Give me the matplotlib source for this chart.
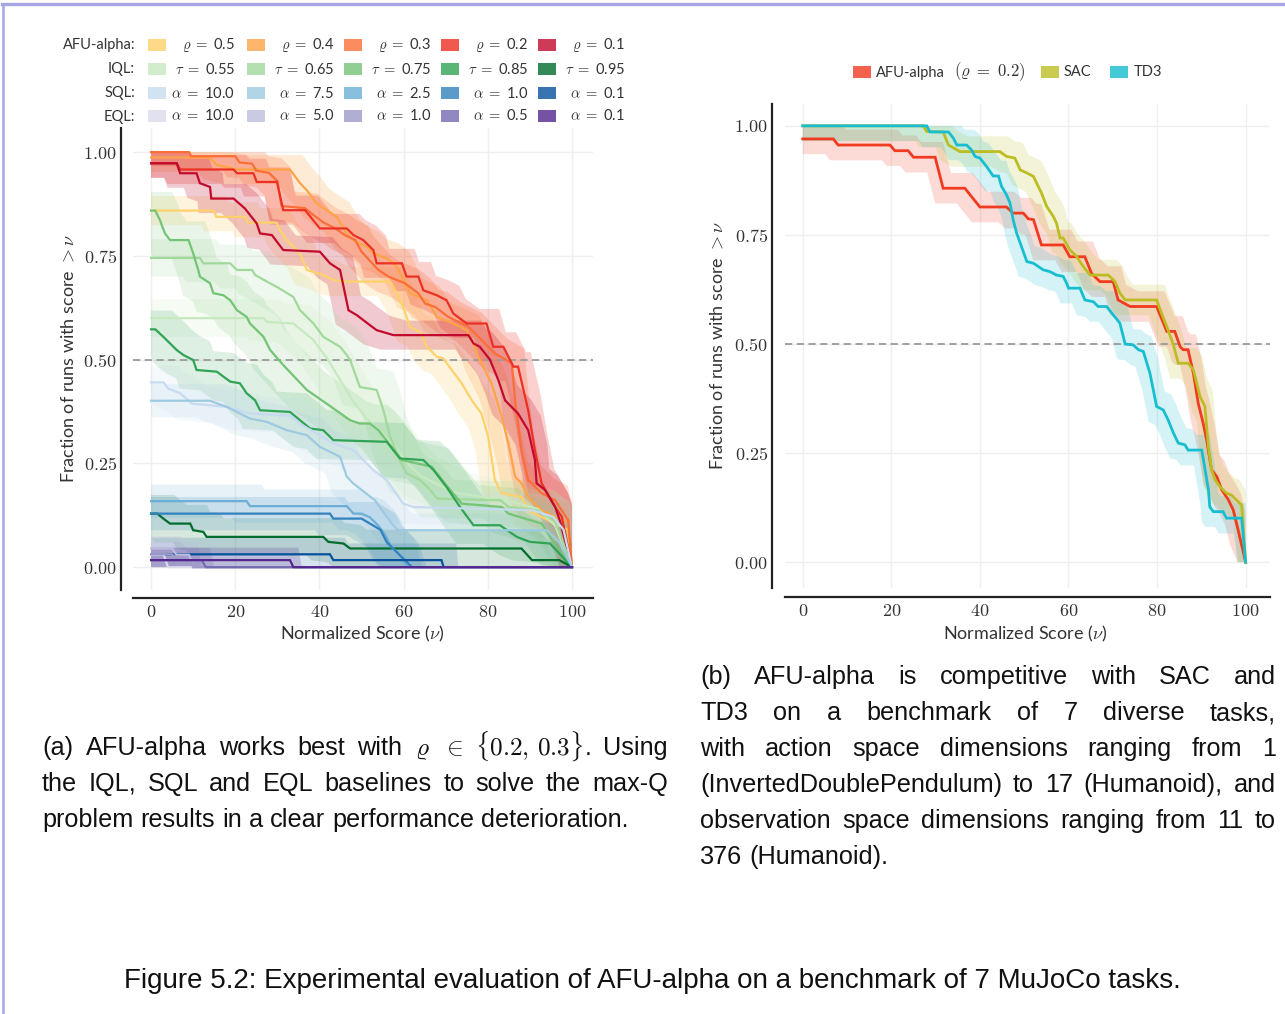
import numpy as np
import matplotlib
matplotlib.use("Agg")
import matplotlib.pyplot as plt
from matplotlib.patches import Rectangle
from matplotlib.lines import Line2D

plt.rcParams["mathtext.fontset"] = "cm"
plt.rcParams["font.family"] = ["Lato", "DejaVu Sans"]

# ---------------- (a) left panel, curve vertices (score, fraction) ----------------
# AFU-alpha
afu05_x = [0, 14.8, 15.5, 22.3, 23, 29.8, 30.6, 32.2, 35.4, 37, 40.9, 43.3, 45.7, 56.8, 58.4, 59.9, 61.5, 63.9, 65.5, 67.9,
           69.4, 73.8, 76.2, 78.5, 80.1, 81.7, 83.3, 88.1, 89.6, 92.8, 96, 99, 100]
afu05_y = [0.859, 0.859, 0.844, 0.844, 0.830, 0.830, 0.812, 0.788, 0.756, 0.716, 0.704, 0.692, 0.688, 0.688, 0.660, 0.627,
           0.579, 0.567, 0.531, 0.507, 0.503, 0.443, 0.402, 0.370, 0.314, 0.210, 0.178, 0.169, 0.137, 0.121, 0.105, 0.09, 0.0]
afu04_x = [0, 14, 15.6, 20.4, 33, 35.4, 37, 39.4, 41.7, 44.1, 46.5, 48, 51.2, 52.8, 56, 58.4, 59.9, 61.5, 65.5, 67.9,
           71.8, 75, 76.6, 77.7, 80.9, 83.3, 84.9, 86.5, 88, 89.6, 92.8, 96, 99, 100]
afu04_y = [0.987, 0.987, 0.969, 0.958, 0.958, 0.925, 0.908, 0.876, 0.860, 0.844, 0.804, 0.788, 0.772, 0.756, 0.744, 0.724,
           0.692, 0.660, 0.643, 0.603, 0.587, 0.571, 0.539, 0.507, 0.443, 0.362, 0.298, 0.218, 0.202, 0.169, 0.137, 0.121,
           0.11, 0.0]
afu03_x = [0, 9, 9.5, 20, 21, 24, 25, 28, 30, 31, 36.5, 39, 41, 44, 46, 48.5, 50, 54, 56.4, 60.3, 63.5, 65.1, 67.5, 70.6,
           75.4, 77, 80.1, 81.7, 85.7, 86.5, 88, 89.6, 92.8, 96, 99.1, 100]
afu03_y = [1.0, 1.0, 0.99, 0.99, 0.975, 0.972, 0.955, 0.95, 0.93, 0.87, 0.865, 0.845, 0.83, 0.815, 0.80, 0.788, 0.76, 0.716,
           0.70, 0.684, 0.66, 0.635, 0.627, 0.603, 0.579, 0.563, 0.531, 0.515, 0.491, 0.40, 0.282, 0.21, 0.178, 0.161, 0.113,
           0.0]
afu02_x = [0, 6.1, 6.9, 19.6, 20.4, 24.3, 25.1, 29.9, 31.4, 36.6, 40.1, 46.5, 48.1, 50.4, 52.8, 53.6, 59.6, 60.7, 63.5,
           64.7, 67.9, 70.2, 71.8, 75, 79.7, 81.3, 83.7, 86.1, 87.2, 89.6, 91.2, 92.8, 96, 97.6, 100]
afu02_y = [0.973, 0.973, 0.958, 0.958, 0.949, 0.949, 0.928, 0.928, 0.860, 0.860, 0.816, 0.816, 0.80, 0.788, 0.764, 0.732,
           0.732, 0.70, 0.70, 0.667, 0.655, 0.643, 0.611, 0.587, 0.587, 0.531, 0.531, 0.483, 0.483, 0.378, 0.282, 0.202,
           0.145, 0.121, 0.0]
afu01_x = [0, 6.1, 6.9, 10.8, 11.6, 14, 14.3, 19.6, 22.3, 25.1, 25.9, 28.7, 31.4, 40.1, 42.5, 44.9, 46.9, 48.9, 52, 53.6,
           57.6, 75.4, 76.6, 78.1, 80.5, 82.5, 84.1, 87.2, 89.6, 91.2, 91.6, 93.6, 96, 97.1, 100]
afu01_y = [0.973, 0.973, 0.949, 0.949, 0.925, 0.916, 0.888, 0.888, 0.864, 0.828, 0.804, 0.80, 0.764, 0.76, 0.732, 0.716,
           0.619, 0.607, 0.583, 0.571, 0.559, 0.559, 0.539, 0.531, 0.50, 0.451, 0.402, 0.370, 0.330, 0.258, 0.202, 0.186,
           0.145, 0.113, 0.0]

# IQL
iql055_x = [0, 26.7, 27.5, 33.8, 36.2, 38.6, 40.9, 42, 45, 48, 51, 54, 58, 61, 64, 68, 72, 78, 85, 92, 96, 100]
iql055_y = [0.60, 0.60, 0.591, 0.587, 0.567, 0.547, 0.515, 0.50, 0.45, 0.40, 0.36, 0.33, 0.29, 0.25, 0.22, 0.20, 0.18,
            0.17, 0.16, 0.14, 0.10, 0.0]
iql065_x = [0, 11.6, 12.4, 18.8, 20.4, 24, 24.7, 27.5, 29.9, 33.8, 35.4, 38.6, 40.9, 44.9, 46.5, 47.3, 49.6, 53.6, 55.2,
            56.8, 59.1, 60.7, 63.9, 66, 68, 83, 85, 92, 96, 100]
iql065_y = [0.745, 0.745, 0.732, 0.732, 0.716, 0.716, 0.704, 0.688, 0.675, 0.651, 0.619, 0.587, 0.555, 0.531, 0.511, 0.499,
            0.434, 0.427, 0.378, 0.314, 0.258, 0.226, 0.21, 0.19, 0.165, 0.161, 0.145, 0.137, 0.11, 0.0]
iql075_x = [0, 1, 2.1, 3.3, 4.5, 8.9, 10, 11.2, 11.6, 14, 14.8, 17.2, 18.8, 20.4, 22.7, 23.5, 25.1, 26.7, 28.3, 31.4, 37,
            41.7, 47.3, 49.6, 52, 54, 59.6, 66.7, 69.8, 73.8, 83.3, 84.9, 92.8, 97, 100]
iql075_y = [0.859, 0.859, 0.836, 0.804, 0.788, 0.788, 0.756, 0.716, 0.70, 0.684, 0.660, 0.655, 0.643, 0.619, 0.603, 0.587,
            0.571, 0.555, 0.523, 0.487, 0.427, 0.394, 0.354, 0.346, 0.346, 0.33, 0.258, 0.242, 0.202, 0.153, 0.145, 0.129,
            0.105, 0.04, 0.0]
iql085_x = [0, 1, 2.9, 4.5, 6.1, 7.7, 10, 10.8, 15.6, 17.2, 18.8, 21.1, 22.7, 24.7, 25.9, 33, 35.4, 37.8, 40.9, 43.3, 56,
            59.1, 64.7, 67.1, 70.2, 71.8, 73.4, 76.6, 82.9, 86.9, 90, 94.8, 100]
iql085_y = [0.573, 0.573, 0.555, 0.539, 0.523, 0.511, 0.499, 0.475, 0.471, 0.459, 0.447, 0.443, 0.419, 0.402, 0.378, 0.374,
            0.354, 0.334, 0.330, 0.306, 0.302, 0.262, 0.258, 0.234, 0.193, 0.169, 0.145, 0.101, 0.101, 0.073, 0.061, 0.057,
            0.0]
iql095_x = [0, 1.5, 2.9, 4.5, 9.3, 10, 12.4, 13.2, 40.9, 42.1, 45.7, 47.3, 88, 90.5, 97, 100]
iql095_y = [0.129, 0.129, 0.117, 0.105, 0.105, 0.089, 0.085, 0.073, 0.073, 0.061, 0.057, 0.045, 0.045, 0.017, 0.017, 0.0]

# SQL
sql100_x = [0, 3, 4.1, 6.9, 9.7, 14, 18, 23.5, 33, 35.4, 38, 43.3, 48.1, 52.8, 56, 59.9, 62.3, 90.8, 95.6, 98, 100]
sql100_y = [0.445, 0.445, 0.430, 0.419, 0.394, 0.39, 0.386, 0.37, 0.365, 0.345, 0.33, 0.298, 0.282, 0.234, 0.21, 0.153,
            0.145, 0.137, 0.121, 0.09, 0.0]
sql075_x = [0, 14, 18, 23.5, 27.5, 32.2, 37, 40.1, 44.9, 46.5, 48, 53.2, 57.2, 58.7, 94, 97, 100]
sql075_y = [0.401, 0.401, 0.386, 0.358, 0.350, 0.330, 0.318, 0.290, 0.266, 0.218, 0.202, 0.161, 0.105, 0.089, 0.089, 0.06,
            0.0]
sql025_x = [0, 22.7, 23.5, 46.5, 48.1, 50, 52, 54, 55.5, 57, 59, 61, 100]
sql025_y = [0.159, 0.159, 0.147, 0.147, 0.129, 0.129, 0.12, 0.10, 0.08, 0.05, 0.03, 0.0, 0.0]
sql010_x = [0, 42.5, 43.3, 50, 52, 54.5, 56, 58, 60, 62, 100]
sql010_y = [0.129, 0.129, 0.117, 0.117, 0.105, 0.09, 0.06, 0.04, 0.02, 0.0, 0.0]
sql001_x = [0, 42.5, 43.3, 69, 69.5, 100]
sql001_y = [0.031, 0.031, 0.017, 0.017, 0.0, 0.0]

# EQL
eql100_x = [0, 3, 4, 100]
eql100_y = [0.03, 0.03, 0.0, 0.0]
eql050_x = [0, 5, 6, 9, 10, 100]
eql050_y = [0.045, 0.045, 0.03, 0.03, 0.0, 0.0]
eql010_x = [0, 4.9, 6.5, 9.3, 10, 100]
eql010_y = [0.031, 0.031, 0.017, 0.017, 0.0, 0.0]
eql005_x = [0, 12, 13, 100]
eql005_y = [0.017, 0.017, 0.0, 0.0]
eql001_x = [0, 33, 33.8, 100]
eql001_y = [0.017, 0.017, 0.0, 0.0]

afu_labels = ["0.5", "0.4", "0.3", "0.2", "0.1"]
iql_labels = ["0.55", "0.65", "0.75", "0.85", "0.95"]
sql_labels = ["10.0", "7.5", "2.5", "1.0", "0.1"]
eql_labels = ["10.0", "5.0", "1.0", "0.5", "0.1"]

# ---------------- (b) right panel ----------------
afu_x = [0, 6.9, 8, 19.7, 20.8, 23.8, 25, 29.9, 31.7, 36.6, 40, 46, 47.5, 49.8, 50.9, 52.1, 53.9, 58.8, 60.3, 63.7, 65.2,
         67.1, 70.1, 71.2, 73.9, 79.9, 82.2, 84, 85.2, 85.9, 87, 88.2, 89.3, 90.4, 91.2, 92.3, 93.5, 94.6, 96.1, 97.2, 98.3,
         100]
afu_y = [0.970, 0.970, 0.956, 0.956, 0.943, 0.943, 0.928, 0.928, 0.857, 0.857, 0.814, 0.814, 0.80, 0.80, 0.787, 0.785,
         0.727, 0.727, 0.70, 0.70, 0.662, 0.643, 0.643, 0.601, 0.586, 0.586, 0.529, 0.529, 0.494, 0.487, 0.487, 0.433,
         0.364, 0.319, 0.280, 0.212, 0.196, 0.166, 0.143, 0.120, 0.074, 0.0]
sac_x = [0, 27.2, 28, 31.7, 32.9, 35.5, 44.5, 46, 47.9, 49.1, 50.6, 52.1, 52.8, 53.9, 55.1, 56.6, 57.3, 58.1, 58.8, 60.3,
         61.9, 63.3, 64.9, 69, 70.5, 71.6, 72.8, 79.9, 81, 82.2, 83.7, 84.8, 87, 88.2, 89.7, 90.8, 91.6, 92.3, 93.1, 94.2,
         95.7, 96.8, 99.1, 100]
sac_y = [1.0, 1.0, 0.987, 0.986, 0.956, 0.941, 0.941, 0.930, 0.926, 0.899, 0.892, 0.884, 0.869, 0.846, 0.815, 0.792, 0.777,
         0.743, 0.743, 0.716, 0.700, 0.678, 0.658, 0.658, 0.643, 0.617, 0.601, 0.601, 0.571, 0.540, 0.498, 0.456, 0.456,
         0.441, 0.380, 0.357, 0.265, 0.212, 0.189, 0.173, 0.158, 0.154, 0.131, 0.0]
td3_x = [0, 28, 28.7, 32.9, 34, 34.8, 37, 38.1, 38.9, 40, 41.5, 43, 44.2, 44.9, 46, 46.8, 47.5, 48.3, 49.4, 50.6, 52.1,
         54.3, 55.8, 57.3, 58.8, 59.6, 60, 62.6, 63.7, 65.6, 66.7, 68.6, 70.1, 71.6, 72.8, 74.6, 75.8, 76.9, 78.4, 79.9,
         81.4, 82.5, 83.7, 84.8, 86.3, 87, 90.1, 91.6, 91.9, 92.7, 94.9, 95.7, 99.1, 100]
td3_y = [1.0, 1.0, 0.986, 0.986, 0.972, 0.956, 0.956, 0.945, 0.930, 0.926, 0.907, 0.885, 0.885, 0.861, 0.842, 0.823, 0.785,
         0.754, 0.723, 0.689, 0.685, 0.670, 0.666, 0.658, 0.655, 0.639, 0.628, 0.628, 0.601, 0.597, 0.586, 0.586, 0.567,
         0.548, 0.50, 0.498, 0.487, 0.483, 0.433, 0.357, 0.349, 0.326, 0.296, 0.273, 0.269, 0.257, 0.257, 0.166, 0.127,
         0.116, 0.116, 0.101, 0.101, 0.0]
right_labels = ["AFU-alpha", "SAC", "TD3"]
right_label_math = r"$(\varrho\ =\ 0.2)$"

# colours
afu_colors = ["#fed16a", "#fea446", "#fc6e38", "#ec3024", "#c10a2e"]
iql_colors = ["#c7e9c0", "#a1d99b", "#74c476", "#31a354", "#006d2c"]
sql_colors = ["#c6dbef", "#9ecae1", "#6baed6", "#3182bd", "#08519c"]
eql_colors = ["#dadaeb", "#bcbddc", "#9e9ac8", "#756bb1", "#54278f"]
right_colors = ["#f03b20", "#bcbd22", "#17becf"]

W, H = 1285, 1014
fig = plt.figure(figsize=(W / 100, H / 100), dpi=100)
TXT = "#333333"


def fx(px):
    return px / W


def fy(py):
    return 1 - py / H


def draw_profile(ax, xs, ys, color, dx, dy, lw, band_alpha):
    xs = np.asarray(xs, float)
    ys = np.asarray(ys, float)
    up_x = np.clip(np.r_[0, xs + dx], 0, 100)
    up_y = np.clip(np.r_[ys[0] + dy, np.where(ys > 0, ys + dy, 0)], 0, 1)
    lo_x = np.clip(np.r_[xs - dx, 100], 0, 100)
    lo_y = np.clip(np.r_[ys - dy, 0], 0, 1)
    ax.fill(np.r_[up_x, lo_x[::-1]], np.r_[up_y, lo_y[::-1]], color=color, alpha=band_alpha, lw=0, zorder=1)
    ax.plot(xs, ys, color=color, lw=lw, zorder=3, solid_joinstyle="miter")


def style_axes(ax, xlim, ylim, left_off, bottom_off):
    ax.set_xlim(*xlim)
    ax.set_ylim(*ylim)
    for s in ["top", "right"]:
        ax.spines[s].set_visible(False)
    ax.spines["left"].set_position(("outward", left_off))
    ax.spines["bottom"].set_position(("outward", bottom_off))
    for s in ["left", "bottom"]:
        ax.spines[s].set_linewidth(1.6)
        ax.spines[s].set_color("#222222")
    ticks_x = [0, 20, 40, 60, 80, 100]
    ticks_y = [0, 0.25, 0.5, 0.75, 1.0]
    ax.set_xticks(ticks_x)
    ax.set_xticklabels([rf"${v}$" for v in ticks_x])
    ax.set_yticks(ticks_y)
    ax.set_yticklabels([rf"${v:.2f}$" for v in ticks_y])
    ax.tick_params(axis="both", length=0, labelsize=13, labelcolor=TXT)
    ax.tick_params(axis="y", pad=3)
    ax.tick_params(axis="x", pad=4)
    ax.grid(True, color="#efefef", lw=1.0)
    ax.set_axisbelow(True)
    ax.axhline(0.5, color="#9a9a9a", lw=1.3, dashes=(4, 2.5), zorder=2)
    ax.set_xlabel(r"Normalized Score ($\nu$)", fontsize=13, color=TXT, va="center")
    ax.set_ylabel(r"Fraction of runs with score $>\nu$", fontsize=13, color=TXT, va="center")


# ---------------- left axes ----------------
axL = fig.add_axes([fx(133), fy(590), 460 / W, 462 / H])
style_axes(axL, (-4.3, 105.0), (-0.055, 1.058), 8.6, 5.8)
axL.xaxis.set_label_coords((362 - 133) / 460, (590 - 634) / 462)
axL.yaxis.set_label_coords((68 - 133) / 460, 0.5)

afu_curves = [(afu05_x, afu05_y), (afu04_x, afu04_y), (afu03_x, afu03_y), (afu02_x, afu02_y), (afu01_x, afu01_y)]
iql_curves = [(iql055_x, iql055_y), (iql065_x, iql065_y), (iql075_x, iql075_y), (iql085_x, iql085_y),
              (iql095_x, iql095_y)]
sql_curves = [(sql100_x, sql100_y), (sql075_x, sql075_y), (sql025_x, sql025_y), (sql010_x, sql010_y),
              (sql001_x, sql001_y)]
eql_curves = [(eql100_x, eql100_y), (eql050_x, eql050_y), (eql010_x, eql010_y), (eql005_x, eql005_y),
              (eql001_x, eql001_y)]

families = [
    (afu_curves, afu_colors, 3.0, 0.035, 0.22),
    (iql_curves, iql_colors, 4.0, 0.045, 0.16),
    (sql_curves, sql_colors, 3.5, 0.04, 0.16),
    (eql_curves, eql_colors, 2.0, 0.03, 0.2),
]
for curves, colors, dx, dy, a in families:
    for (xs, ys), c in zip(curves, colors):
        draw_profile(axL, xs, ys, c, dx, dy, 1.6, a)

# left legend, drawn by hand
rows = [("AFU-alpha:", r"$\varrho\;=$", afu_labels, afu_colors),
        ("IQL:", r"$\tau\;=$", iql_labels, iql_colors),
        ("SQL:", r"$\alpha\;=$", sql_labels, sql_colors),
        ("EQL:", r"$\alpha\;=$", eql_labels, eql_colors)]
row_y = [45, 69, 93, 116]
col_x = [148, 247, 344, 441, 538]
for (name, sym, labs, cols), ry in zip(rows, row_y):
    fig.text(fx(135), fy(ry + 4.5), name, ha="right", va="baseline", fontsize=10.5, color=TXT)
    for cx, lab, col in zip(col_x, labs, cols):
        fig.add_artist(Rectangle((fx(cx), fy(ry + 6)), 18 / W, 12 / H, transform=fig.transFigure,
                                 facecolor=col, alpha=0.8, lw=0))
        fig.text(fx(cx + 87), fy(ry + 4.5), f"{sym} {lab}", ha="right", va="baseline", fontsize=10.5, color=TXT)

# ---------------- right axes ----------------
axR = fig.add_axes([fx(785), fy(588), 485 / W, 484 / H])
style_axes(axR, (-4.0, 105.5), (-0.059, 1.050), 9.4, 6.5)
axR.xaxis.set_label_coords((1025 - 785) / 485, (588 - 634) / 484)
axR.yaxis.set_label_coords((717 - 785) / 485, 0.5)

for (xs, ys), c in zip([(afu_x, afu_y), (sac_x, sac_y), (td3_x, td3_y)], right_colors):
    draw_profile(axR, xs, ys, c, 1.8, 0.035, 2.0, 0.18)

for px, tx, lab, col in zip([853, 1041, 1110], [876, 1064, 1134], right_labels, right_colors):
    fig.add_artist(Rectangle((fx(px), fy(78)), 18 / W, 12 / H, transform=fig.transFigure,
                             facecolor=col, alpha=0.8, lw=0))
    fig.text(fx(tx), fy(76.5), lab, ha="left", va="baseline", fontsize=10.5, color=TXT)
fig.text(fx(1026), fy(76.5), right_label_math, ha="right", va="baseline", fontsize=12, color=TXT)

# ---------------- captions ----------------
CAP = "Liberation Sans"
CAP_SIZE = 18.2
renderer = fig.canvas.get_renderer()


def put_line(words, x0, x1, base, justify):
    items = [fig.text(0, fy(base), w, fontsize=CAP_SIZE, family=CAP, va="baseline", color="#111111") for w in words]
    widths = [t.get_window_extent(renderer).width for t in items]
    if justify and len(words) > 1:
        gap = (x1 - x0 - sum(widths)) / (len(words) - 1)
    else:
        gap = 0.28 * CAP_SIZE * 100 / 72
    x = x0
    for t, w in zip(items, widths):
        t.set_x(fx(x))
        x += w + gap


cap_a = ["(a) AFU-alpha works best with $\\varrho$ $\\in$ $\\{0.2,\\,0.3\\}$. Using",
         "the IQL, SQL and EQL baselines to solve the max-Q",
         "problem results in a clear performance deterioration."]
for i, line in enumerate(cap_a):
    put_line(line.split(" "), 42, 668, 755 + 36 * i, i < len(cap_a) - 1)

cap_b = ["(b) AFU-alpha is competitive with SAC and",
         "TD3 on a benchmark of 7 diverse tasks,",
         "with action space dimensions ranging from 1",
         "(InvertedDoublePendulum) to 17 (Humanoid), and",
         "observation space dimensions ranging from 11 to",
         "376 (Humanoid)."]
for i, line in enumerate(cap_b):
    put_line(line.split(" "), 700, 1276, 684 + 36 * i, i < len(cap_b) - 1)

fig.text(fx(652.5), fy(988), "Figure 5.2: Experimental evaluation of AFU-alpha on a benchmark of 7 MuJoCo tasks.",
         ha="center", va="baseline", fontsize=20, family=CAP, color="#111111")

# page frame
fig.add_artist(Line2D([fx(2), 1], [fy(3.5), fy(3.5)], color="#a5a6e3", lw=2.4))
fig.add_artist(Line2D([fx(3), fx(3)], [0, fy(3.5)], color="#a5a6e3", lw=1.8))

fig.savefig("out.png", dpi=100)
